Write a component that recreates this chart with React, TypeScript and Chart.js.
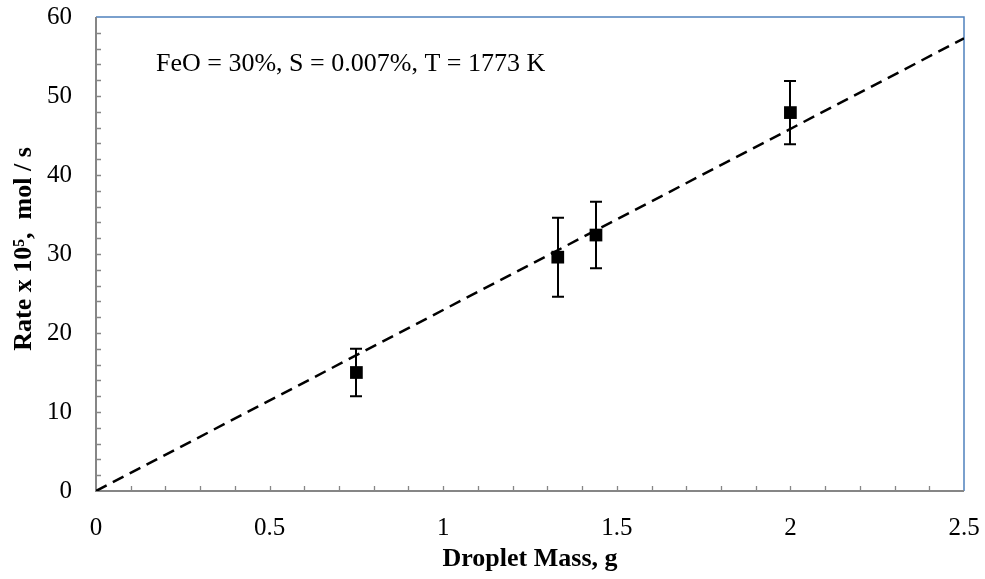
import React, { useEffect, useRef } from "react";
import { Chart, registerables } from "chart.js";

Chart.register(...registerables);

const massG = [0.75, 1.33, 1.44, 2.0];
const rateE5 = [15.0, 29.6, 32.4, 47.9];
const rateErr = [3.0, 5.0, 4.2, 4.0];
const trendX = [0, 2.5];
const trendY = [0, 57.3];
const xTicks = [0, 0.5, 1, 1.5, 2, 2.5];
const yTicks = [0, 10, 20, 30, 40, 50, 60];
const annotation = "FeO = 30%, S = 0.007%, T = 1773 K";
const xTitle = "Droplet Mass, g";
const yTitle = "Rate x 10\u2075,  mol / s";

const SERIF = "'Liberation Serif', 'Times New Roman', serif";

const framePlugin = {
  id: "frame",
  beforeDatasetsDraw(chart: any) {
    const { ctx, chartArea: a, scales } = chart;
    const xs = scales.x;
    const ys = scales.y;
    ctx.save();
    // blue top/right border
    ctx.strokeStyle = "#4F81BD";
    ctx.lineWidth = 1.5;
    ctx.beginPath();
    ctx.moveTo(a.left, a.top);
    ctx.lineTo(a.right, a.top);
    ctx.lineTo(a.right, a.bottom);
    ctx.stroke();
    // gray axes
    ctx.strokeStyle = "#868686";
    ctx.lineWidth = 2;
    ctx.beginPath();
    ctx.moveTo(a.left, a.top);
    ctx.lineTo(a.left, a.bottom);
    ctx.lineTo(a.right, a.bottom);
    ctx.stroke();
    // inward ticks
    ctx.lineWidth = 1.3;
    ctx.beginPath();
    for (let v = 2; v <= 58; v += 2) {
      const y = Math.round(ys.getPixelForValue(v)) + 0.5;
      ctx.moveTo(a.left, y);
      ctx.lineTo(a.left + 5, y);
    }
    for (let i = 1; i < 25; i++) {
      const x = Math.round(xs.getPixelForValue(i / 10)) + 0.5;
      ctx.moveTo(x, a.bottom);
      ctx.lineTo(x, a.bottom - 5);
    }
    ctx.stroke();
    // annotation
    ctx.fillStyle = "#000";
    ctx.font = `26px ${SERIF}`;
    ctx.textAlign = "left";
    ctx.textBaseline = "middle";
    ctx.fillText(annotation, 156, 64);
    // y title
    ctx.font = `bold 26px ${SERIF}`;
    ctx.translate(24, 249);
    ctx.rotate(-Math.PI / 2);
    ctx.textAlign = "center";
    ctx.fillText(yTitle, 0, 0);
    ctx.restore();
  },
  afterDatasetsDraw(chart: any) {
    const { ctx, scales } = chart;
    const xs = scales.x;
    const ys = scales.y;
    ctx.save();
    ctx.strokeStyle = "#000";
    ctx.lineWidth = 2;
    ctx.beginPath();
    massG.forEach((m, i) => {
      const x = Math.round(xs.getPixelForValue(m));
      const yt = ys.getPixelForValue(rateE5[i] + rateErr[i]);
      const yb = ys.getPixelForValue(rateE5[i] - rateErr[i]);
      ctx.moveTo(x, yt);
      ctx.lineTo(x, yb);
      ctx.moveTo(x - 6, yt);
      ctx.lineTo(x + 6, yt);
      ctx.moveTo(x - 6, yb);
      ctx.lineTo(x + 6, yb);
    });
    ctx.stroke();
    ctx.restore();
  },
};

export default function App() {
  const ref = useRef<HTMLCanvasElement>(null);
  useEffect(() => {
    document.body.style.margin = "0";
    const chart = new Chart(ref.current!, {
      type: "scatter",
      data: {
        datasets: [
          {
            label: "trend",
            data: trendX.map((x, i) => ({ x, y: trendY[i] })),
            showLine: true,
            borderColor: "#000",
            borderWidth: 2.5,
            borderDash: [12, 7],
            pointRadius: 0,
            order: 2,
          },
          {
            label: "rate",
            data: massG.map((x, i) => ({ x, y: rateE5[i] })),
            pointStyle: "rect",
            pointRadius: 9,
            backgroundColor: "#000",
            borderColor: "#000",
            borderWidth: 0,
            order: 1,
          },
        ],
      },
      options: {
        animation: false,
        responsive: false,
        layout: { padding: { left: 0, top: 17, right: 21, bottom: 0 } },
        plugins: { legend: { display: false }, tooltip: { enabled: false } },
        scales: {
          x: {
            type: "linear",
            min: 0,
            max: 2.5,
            afterBuildTicks: (s: any) => {
              s.ticks = xTicks.map((v) => ({ value: v }));
            },
            afterFit: (s: any) => {
              s.height = 88;
              s.paddingLeft = 0;
              s.paddingRight = 0;
            },
            grid: { display: false, drawTicks: false },
            border: { display: false },
            ticks: {
              color: "#000",
              font: { family: SERIF, size: 25 },
              padding: 22,
              maxRotation: 0,
              callback: (v: any) => String(v),
            },
            title: {
              display: true,
              text: xTitle,
              color: "#000",
              font: { family: SERIF, size: 26, weight: "bold" },
              padding: { top: 0 },
            },
          },
          y: {
            type: "linear",
            min: 0,
            max: 60,
            afterBuildTicks: (s: any) => {
              s.ticks = yTicks.map((v) => ({ value: v }));
            },
            afterFit: (s: any) => {
              s.width = 96;
              s.paddingTop = 0;
              s.paddingBottom = 0;
            },
            grid: { display: false, drawTicks: false },
            border: { display: false },
            ticks: {
              color: "#000",
              font: { family: SERIF, size: 25 },
              padding: 24,
            },
          },
        },
      },
      plugins: [framePlugin],
    });
    return () => chart.destroy();
  }, []);
  return <canvas ref={ref} width={985} height={579} style={{ display: "block" }} />;
}
